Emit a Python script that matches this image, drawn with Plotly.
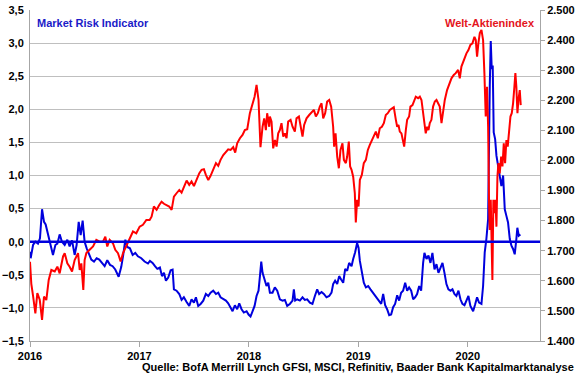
import plotly.graph_objects as go

# Market Risk Indicator (BofA ML GFSI), left axis; x in decimal years
risk_years = [
    2016.000, 2016.006, 2016.028, 2016.049, 2016.073, 2016.091, 2016.110, 2016.128, 2016.143, 2016.164,
    2016.186, 2016.210, 2016.232, 2016.250, 2016.271, 2016.292, 2016.317, 2016.341, 2016.362, 2016.384,
    2016.408, 2016.426, 2016.445, 2016.463, 2016.481, 2016.499, 2016.518, 2016.539, 2016.560, 2016.585,
    2016.609, 2016.633, 2016.658, 2016.682, 2016.706, 2016.731, 2016.755, 2016.779, 2016.810, 2016.834,
    2016.852, 2016.871, 2016.889, 2016.913, 2016.938, 2016.962, 2016.986, 2017.017, 2017.047, 2017.078,
    2017.096, 2017.120, 2017.142, 2017.163, 2017.187, 2017.206, 2017.224, 2017.242, 2017.263, 2017.285,
    2017.303, 2017.315, 2017.339, 2017.364, 2017.385, 2017.406, 2017.431, 2017.455, 2017.476, 2017.498,
    2017.516, 2017.537, 2017.559, 2017.583, 2017.607, 2017.629, 2017.650, 2017.674, 2017.699, 2017.720,
    2017.741, 2017.766, 2017.790, 2017.811, 2017.833, 2017.851, 2017.872, 2017.893, 2017.912, 2017.933,
    2017.954, 2017.979, 2017.997, 2018.015, 2018.034, 2018.052, 2018.070, 2018.088, 2018.101, 2018.113,
    2018.125, 2018.143, 2018.161, 2018.177, 2018.192, 2018.216, 2018.237, 2018.259, 2018.283, 2018.307,
    2018.329, 2018.350, 2018.374, 2018.399, 2018.411, 2018.423, 2018.441, 2018.466, 2018.490, 2018.511,
    2018.533, 2018.557, 2018.581, 2018.603, 2018.624, 2018.642, 2018.664, 2018.685, 2018.709, 2018.734,
    2018.755, 2018.770, 2018.788, 2018.807, 2018.825, 2018.843, 2018.862, 2018.880, 2018.898, 2018.916,
    2018.938, 2018.953, 2018.971, 2018.989, 2019.002, 2019.014, 2019.032, 2019.050, 2019.069, 2019.090,
    2019.111, 2019.135, 2019.160, 2019.184, 2019.209, 2019.227, 2019.245, 2019.263, 2019.282, 2019.300,
    2019.318, 2019.336, 2019.355, 2019.373, 2019.391, 2019.409, 2019.428, 2019.446, 2019.464, 2019.483,
    2019.501, 2019.519, 2019.537, 2019.556, 2019.574, 2019.592, 2019.604, 2019.623, 2019.641, 2019.659,
    2019.677, 2019.696, 2019.714, 2019.732, 2019.750, 2019.769, 2019.787, 2019.805, 2019.823, 2019.842,
    2019.860, 2019.878, 2019.896, 2019.915, 2019.933, 2019.951, 2019.970, 2019.988, 2020.006, 2020.024,
    2020.049, 2020.067, 2020.085, 2020.103, 2020.125, 2020.140, 2020.155, 2020.170, 2020.186, 2020.201,
    2020.210, 2020.219, 2020.228, 2020.237, 2020.250, 2020.262, 2020.277, 2020.292, 2020.307, 2020.323,
    2020.338, 2020.353, 2020.368, 2020.384, 2020.399, 2020.414, 2020.429, 2020.444, 2020.453, 2020.466,
    2020.481,
]
risk_values = [
    -0.15, -0.25, -0.05, 0.00, -0.03, 0.05, 0.49, 0.30, 0.26, 0.10,
    -0.05, -0.20, -0.05, -0.03, 0.11, 0.00, -0.05, 0.03, -0.07, 0.02,
    -0.20, -0.05, 0.30, 0.10, 0.32, 0.00, -0.10, -0.18, -0.27, -0.30,
    -0.25, -0.27, -0.33, -0.37, -0.28, -0.35, -0.37, -0.42, -0.53, -0.38,
    -0.20, 0.03, -0.08, -0.10, -0.20, -0.17, -0.22, -0.25, -0.30, -0.33,
    -0.29, -0.32, -0.37, -0.41, -0.39, -0.52, -0.47, -0.59, -0.54, -0.43,
    -0.42, -0.72, -0.74, -0.79, -0.88, -0.84, -0.91, -0.97, -0.87, -0.92,
    -0.84, -0.97, -0.94, -0.89, -0.79, -0.82, -0.77, -0.74, -0.79, -0.77,
    -0.84, -0.87, -0.89, -0.93, -0.99, -1.05, -0.96, -1.02, -0.93, -1.02,
    -1.07, -1.05, -1.10, -1.13, -1.05, -0.97, -0.82, -0.74, -0.52, -0.30,
    -0.47, -0.57, -0.67, -0.62, -0.77, -0.77, -0.69, -0.74, -0.87, -0.89,
    -0.88, -0.97, -0.94, -0.89, -0.72, -0.89, -0.87, -0.89, -0.84, -0.88,
    -0.87, -0.92, -0.94, -0.82, -0.72, -0.79, -0.76, -0.79, -0.84, -0.82,
    -0.77, -0.64, -0.59, -0.64, -0.52, -0.57, -0.62, -0.41, -0.44, -0.32,
    -0.37, -0.26, -0.16, -0.02, -0.09, -0.29, -0.47, -0.62, -0.69, -0.67,
    -0.72, -0.77, -0.84, -0.89, -0.94, -0.79, -0.96, -1.02, -1.11, -1.10,
    -0.99, -0.94, -0.81, -0.89, -0.77, -0.74, -0.62, -0.74, -0.69, -0.74,
    -0.87, -0.84, -0.79, -0.67, -0.74, -0.32, -0.17, -0.26, -0.21, -0.32,
    -0.17, -0.42, -0.34, -0.47, -0.39, -0.32, -0.47, -0.64, -0.72, -0.74,
    -0.72, -0.79, -0.82, -0.74, -0.87, -0.94, -0.96, -0.89, -0.82, -0.97,
    -1.05, -0.95, -0.84, -0.92, -0.94, -0.67, -0.16, 0.04, 0.34, 2.35,
    3.03, 2.61, 2.66, 1.65, 1.55, 1.30, 1.15, 1.05, 0.84, 1.00,
    0.49, 0.39, 0.29, 0.04, -0.06, -0.11, -0.19, 0.04, 0.21, 0.09,
    0.11,
]

# Welt-Aktienindex (MSCI World), right axis
world_years = [
    2016.000, 2016.012, 2016.028, 2016.049, 2016.067, 2016.089, 2016.110, 2016.128, 2016.149, 2016.171,
    2016.195, 2016.226, 2016.250, 2016.271, 2016.302, 2016.317, 2016.341, 2016.362, 2016.384, 2016.408,
    2016.439, 2016.454, 2016.469, 2016.487, 2016.499, 2016.515, 2016.545, 2016.576, 2016.606, 2016.636,
    2016.667, 2016.688, 2016.706, 2016.728, 2016.758, 2016.779, 2016.804, 2016.828, 2016.850, 2016.871,
    2016.895, 2016.926, 2016.941, 2016.971, 2017.002, 2017.032, 2017.063, 2017.093, 2017.111, 2017.132,
    2017.157, 2017.181, 2017.202, 2017.224, 2017.248, 2017.272, 2017.294, 2017.315, 2017.339, 2017.364,
    2017.385, 2017.406, 2017.431, 2017.455, 2017.476, 2017.498, 2017.522, 2017.546, 2017.568, 2017.589,
    2017.607, 2017.629, 2017.650, 2017.674, 2017.699, 2017.720, 2017.741, 2017.766, 2017.790, 2017.811,
    2017.833, 2017.857, 2017.875, 2017.893, 2017.918, 2017.942, 2017.963, 2017.985, 2018.009, 2018.033,
    2018.052, 2018.070, 2018.088, 2018.106, 2018.125, 2018.140, 2018.155, 2018.167, 2018.186, 2018.192,
    2018.207, 2018.222, 2018.238, 2018.253, 2018.268, 2018.283, 2018.298, 2018.314, 2018.329, 2018.344,
    2018.359, 2018.381, 2018.399, 2018.420, 2018.435, 2018.457, 2018.475, 2018.490, 2018.505, 2018.527,
    2018.551, 2018.572, 2018.594, 2018.612, 2018.630, 2018.648, 2018.664, 2018.679, 2018.697, 2018.715,
    2018.734, 2018.752, 2018.770, 2018.779, 2018.792, 2018.807, 2018.822, 2018.837, 2018.855, 2018.868,
    2018.886, 2018.898, 2018.913, 2018.925, 2018.938, 2018.953, 2018.968, 2018.977, 2018.989, 2019.002,
    2019.014, 2019.032, 2019.050, 2019.069, 2019.087, 2019.105, 2019.123, 2019.142, 2019.160, 2019.178,
    2019.196, 2019.215, 2019.233, 2019.251, 2019.269, 2019.288, 2019.306, 2019.324, 2019.343, 2019.355,
    2019.367, 2019.379, 2019.394, 2019.409, 2019.419, 2019.434, 2019.446, 2019.464, 2019.476, 2019.495,
    2019.507, 2019.525, 2019.546, 2019.562, 2019.577, 2019.592, 2019.604, 2019.616, 2019.629, 2019.641,
    2019.653, 2019.668, 2019.683, 2019.699, 2019.714, 2019.729, 2019.744, 2019.760, 2019.775, 2019.790,
    2019.811, 2019.830, 2019.851, 2019.872, 2019.890, 2019.912, 2019.927, 2019.942, 2019.963, 2019.988,
    2020.006, 2020.024, 2020.043, 2020.061, 2020.073, 2020.085, 2020.097, 2020.110, 2020.125, 2020.140,
    2020.152, 2020.164, 2020.176, 2020.186, 2020.195, 2020.201, 2020.210, 2020.216, 2020.225, 2020.234,
    2020.244, 2020.253, 2020.262, 2020.271, 2020.280, 2020.292, 2020.305, 2020.317, 2020.329, 2020.341,
    2020.353, 2020.365, 2020.378, 2020.390, 2020.402, 2020.414, 2020.426, 2020.435, 2020.444, 2020.454,
    2020.463, 2020.475, 2020.484,
]
world_values = [
    1663, 1590, 1550, 1492, 1559, 1537, 1470, 1548, 1536, 1603,
    1636, 1631, 1647, 1625, 1681, 1692, 1658, 1647, 1631, 1669,
    1692, 1636, 1658, 1570, 1669, 1692, 1703, 1714, 1736, 1730,
    1730, 1747, 1714, 1736, 1725, 1703, 1692, 1664, 1692, 1708,
    1725, 1747, 1764, 1758, 1780, 1786, 1802, 1802, 1813, 1847,
    1836, 1852, 1863, 1856, 1852, 1847, 1836, 1880, 1891, 1902,
    1893, 1913, 1933, 1919, 1930, 1915, 1935, 1957, 1969, 1971,
    1952, 1935, 1949, 1969, 1991, 1982, 2002, 2018, 2029, 2037,
    2035, 2044, 2026, 2057, 2074, 2085, 2101, 2104, 2157, 2190,
    2212, 2251, 2201, 2044, 2112, 2140, 2101, 2157, 2112, 2146,
    2129, 2040, 2068, 2046, 2090, 2101, 2124, 2079, 2090, 2074,
    2129, 2135, 2112, 2096, 2140, 2146, 2112, 2079, 2118, 2140,
    2151, 2159, 2168, 2146, 2157, 2179, 2190, 2140, 2157, 2196,
    2201, 2179, 2112, 2046, 2090, 2013, 1974, 2035, 2057, 2002,
    1991, 2013, 2063, 1980, 1969, 1946, 1891, 1794, 1869, 1847,
    1935, 1952, 1991, 2002, 2035, 2052, 2068, 2079, 2096, 2074,
    2107, 2112, 2124, 2151, 2157, 2168, 2173, 2177, 2135, 2112,
    2118, 2096, 2090, 2063, 2046, 2101, 2135, 2146, 2179, 2184,
    2196, 2212, 2207, 2212, 2201, 2157, 2124, 2090, 2112, 2101,
    2124, 2135, 2179, 2196, 2201, 2190, 2179, 2124, 2173, 2201,
    2234, 2256, 2273, 2284, 2290, 2301, 2273, 2312, 2334, 2356,
    2367, 2384, 2389, 2411, 2400, 2345, 2389, 2423, 2434, 2400,
    2290, 2146, 2245, 2112, 1847, 1769, 1869, 1692, 1603, 1869,
    1825, 1869, 1780, 1946, 1991, 1957, 2013, 1980, 2057, 1991,
    2068, 2046, 2101, 2146, 2157, 2190, 2245, 2290, 2245, 2157,
    2201, 2234, 2184,
]

year_ticks = [2016, 2017, 2018, 2019, 2020]
year_labels = ["2016", "2017", "2018", "2019", "2020"]

BLUE = "#0000DD"
RED = "#FF0000"
FONT = "Liberation Sans"
GRID = "#BFBFBF"
AXIS = "#A6A6A6"

fig = go.Figure()
fig.add_trace(go.Scatter(x=world_years, y=world_values, mode="lines", yaxis="y2",
                         line=dict(color=RED, width=2), name="Welt-Aktienindex"))
fig.add_trace(go.Scatter(x=risk_years, y=risk_values, mode="lines", yaxis="y",
                         line=dict(color=BLUE, width=2), name="Market Risk Indicator"))

fig.add_shape(type="line", xref="paper", x0=0, x1=1, yref="y", y0=0, y1=0,
              line=dict(color=BLUE, width=2.5), layer="above")

fig.update_layout(
    width=580, height=375,
    margin=dict(l=30, r=40, t=10, b=34, autoexpand=False),
    paper_bgcolor="white", plot_bgcolor="white",
    showlegend=False,
    separators=",.",
    font=dict(family=FONT, size=11, color="black"),
    xaxis=dict(range=[2016, 2020.66], tickvals=year_ticks, ticktext=year_labels, automargin=False,
               showgrid=False, zeroline=False, showline=True, linecolor=AXIS, linewidth=1,
               ticks="outside", ticklen=5, tickcolor=AXIS,
               tickfont=dict(family=FONT, size=11, color="black", weight="bold")),
    yaxis=dict(range=[-1.5, 3.5], dtick=0.5, tick0=0, tickformat=".1f", automargin=False,
               showgrid=True, gridcolor=GRID, gridwidth=1, zeroline=False,
               showline=True, linecolor=AXIS, linewidth=1, ticks="", ticklabelstandoff=3,
               tickfont=dict(family=FONT, size=11, color="black", weight="bold")),
    yaxis2=dict(range=[1400, 2500], dtick=100, tick0=1400, tickformat=",d", overlaying="y",
                side="right", showgrid=False, zeroline=False, showline=True, linecolor=AXIS,
                linewidth=1, ticks="outside", ticklen=4, tickcolor=AXIS, automargin=False,
                tickfont=dict(family=FONT, size=11, color="black", weight="bold")),
    annotations=[
        dict(text="Market Risk Indicator", xref="paper", yref="paper", x=0.01, y=0.985,
             xanchor="left", yanchor="top", showarrow=False,
             font=dict(family=FONT, size=11, color="#1A1AC8", weight="bold")),
        dict(text="Welt-Aktienindex", xref="paper", yref="paper", x=0.995, y=0.985,
             xanchor="right", yanchor="top", showarrow=False,
             font=dict(family=FONT, size=11, color="#E4141C", weight="bold")),
        dict(text="Quelle: BofA Merrill Lynch GFSI, MSCI, Refinitiv, Baader Bank Kapitalmarktanalyse",
             xref="paper", yref="paper", x=1.0706, y=-0.055, xanchor="right", yanchor="top",
             showarrow=False, font=dict(family=FONT, size=11, color="black", weight="bold")),
    ],
)

fig.write_html("out.html", config={"displayModeBar": False},
               post_script="document.body.style.margin='0';document.body.style.overflow='hidden';")
